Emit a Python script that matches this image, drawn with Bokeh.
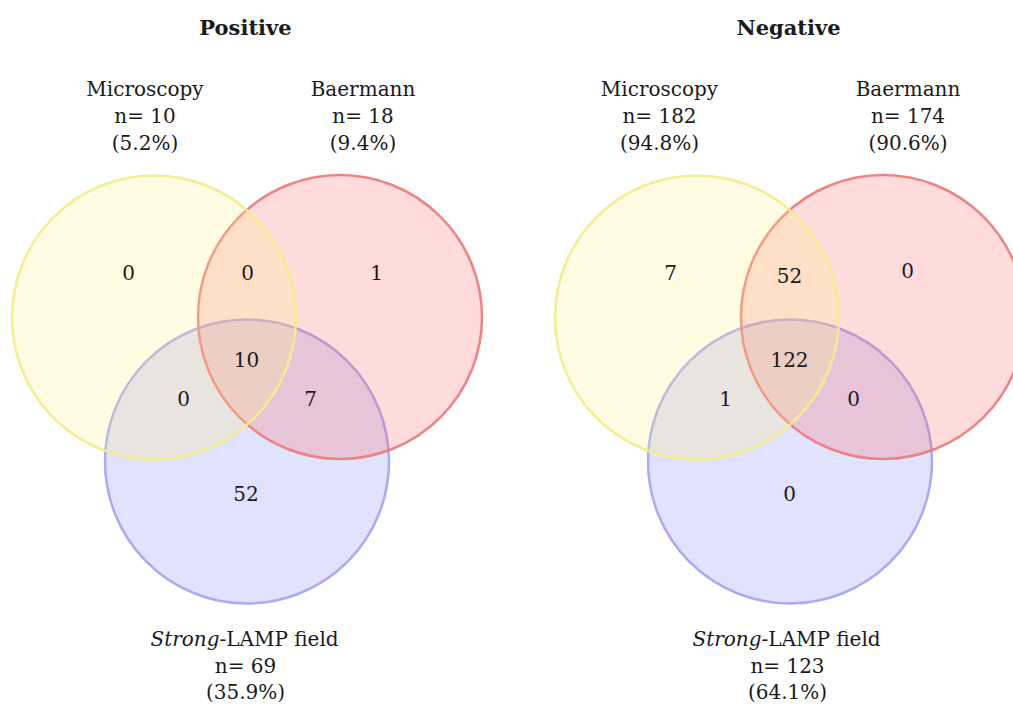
from bokeh.plotting import figure
from bokeh.models import Range1d
from bokeh.core.properties import value
from bokeh.embed import file_html
from bokeh.resources import INLINE

# ---------------- data ----------------
panel_titles = ["Positive", "Negative"]
set_names = ["Microscopy", "Baermann", "LAMP"]
pos_n = [10, 18, 69]
pos_pct = ["5.2%", "9.4%", "35.9%"]
neg_n = [182, 174, 123]
neg_pct = ["94.8%", "90.6%", "64.1%"]
region_keys = ["M", "B", "L", "MB", "ML", "BL", "MBL"]
pos_regions = [0, 1, 52, 0, 0, 7, 10]
neg_regions = [7, 0, 0, 52, 1, 0, 122]

# ---------------- layout (pixels of the page) ----------------
FONT = "DejaVu Serif"
TXT = "#1a1a1a"
panel_x = [0, 543]
R = 142
circle_xy = {"M": (153.5, 317), "B": (339.5, 316.5), "L": (246.5, 461)}
fills = {"M": ("#fff285", 0.23, "#f3ec8c"),
         "B": ("#ff6464", 0.233, "#ee7c7c"),
         "L": ("#696ef5", 0.20, "#a8a5ef")}
region_xy = [
    {"M": (128, 272), "B": (376, 272), "L": (245.5, 493), "MB": (247, 272),
     "ML": (183, 398), "BL": (310, 398), "MBL": (246, 359)},
    {"M": (127, 272), "B": (364, 270), "L": (246, 493), "MB": (246, 275),
     "ML": (182, 398), "BL": (310, 398), "MBL": (246, 359)},
]
header_x = [{"M": 144.5, "B": 362.5}, {"M": 116, "B": 364.5}]
bottom_x = [245, 244]
title_y = 27
head_y = [88, 115, 142]
bot_y = [638, 665, 691]
FS = "20px"

W, H = 1013, 704
p = figure(width=W, height=H, output_backend="svg", toolbar_location=None,
           x_range=Range1d(0, W), y_range=Range1d(H, 0),
           min_border=0, tools="")
p.axis.visible = False
p.grid.visible = False
p.outline_line_color = None
p.background_fill_color = "white"
p.border_fill_color = "white"

panels = [(pos_n, pos_pct, pos_regions), (neg_n, neg_pct, neg_regions)]

for i, (ns, pcts, regs) in enumerate(panels):
    ox = panel_x[i]
    # circles: blue (LAMP) first, then red, then yellow on top
    for key in ["L", "B", "M"]:
        cx, cy = circle_xy[key]
        fc, fa, lc = fills[key]
        p.circle(x=[cx + ox], y=[cy], radius=R, fill_color=fc, fill_alpha=fa,
                 line_color=lc, line_width=2.5, line_alpha=0.95)
    # region counts
    xs = [region_xy[i][k][0] + ox for k in region_keys]
    ys = [region_xy[i][k][1] for k in region_keys]
    p.text(x=xs, y=ys, text=[str(v) for v in regs], text_align="center",
           text_baseline="middle", text_font=value(FONT), text_font_size=FS,
           text_color=TXT)
    # title
    p.text(x=[245 + ox], y=[title_y], text=[panel_titles[i]], text_align="center",
           text_baseline="middle", text_font=value(FONT), text_font_size="21px",
           text_font_style="bold", text_color=TXT)
    # header labels (Microscopy, Baermann)
    for j, key in enumerate(["M", "B"]):
        lines = [set_names[j], "n= %d" % ns[j], "(%s)" % pcts[j]]
        p.text(x=[header_x[i][key] + ox] * 3, y=head_y, text=lines,
               text_align="center", text_baseline="middle", text_font=value(FONT),
               text_font_size=FS, text_color=TXT)
    # bottom label (Strong-LAMP field)
    bx = bottom_x[i] + ox
    split = bx - 26
    p.text(x=[split], y=[bot_y[0]], text=["Strong"], text_align="right",
           text_baseline="middle", text_font=value(FONT), text_font_size=FS,
           text_font_style="italic", text_color=TXT)
    p.text(x=[split], y=[bot_y[0]], text=["-%s field" % set_names[2]], text_align="left",
           text_baseline="middle", text_font=value(FONT), text_font_size=FS,
           text_color=TXT)
    p.text(x=[bx, bx], y=bot_y[1:], text=["n= %d" % ns[2], "(%s)" % pcts[2]],
           text_align="center", text_baseline="middle", text_font=value(FONT),
           text_font_size=FS, text_color=TXT)

open("out.html", "w").write(file_html(p, INLINE))
